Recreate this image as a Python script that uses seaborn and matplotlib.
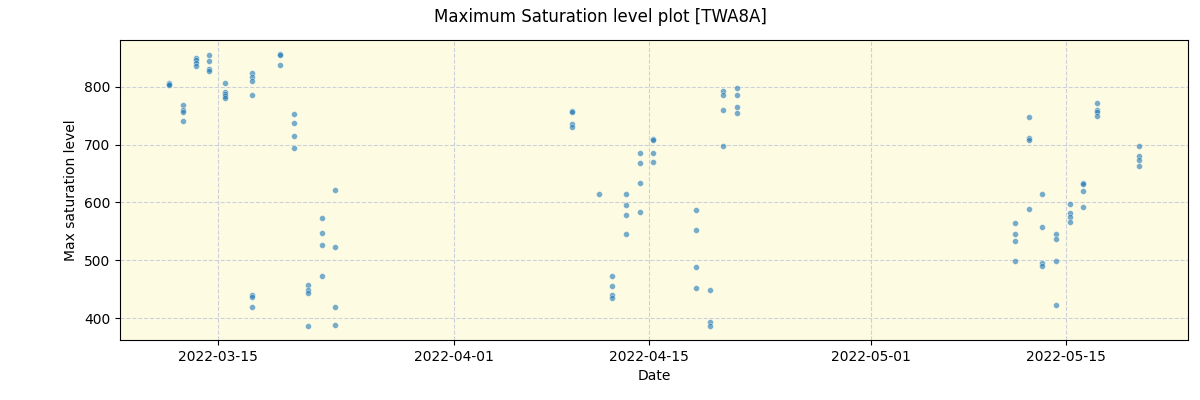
import matplotlib
matplotlib.use("Agg")
import matplotlib.pyplot as plt
import matplotlib.dates as mdates
import seaborn as sns
import pandas as pd

# Observation timestamps (one group of measurements per timestamp)
obs_times = [
    "2022-03-11 11:20", "2022-03-12 11:30", "2022-03-13 10:00", "2022-03-14 10:00",
    "2022-03-15 12:30", "2022-03-17 12:00", "2022-03-19 11:00", "2022-03-20 11:20",
    "2022-03-21 11:30", "2022-03-22 11:45", "2022-03-23 10:50",
    "2022-04-09 11:45", "2022-04-11 10:20", "2022-04-12 09:00", "2022-04-13 09:00",
    "2022-04-14 09:10", "2022-04-15 07:40", "2022-04-18 09:50", "2022-04-19 10:05",
    "2022-04-20 08:40", "2022-04-21 08:55",
    "2022-05-11 07:30", "2022-05-12 07:40", "2022-05-13 07:40", "2022-05-14 07:55",
    "2022-05-15 07:40", "2022-05-16 06:30", "2022-05-17 06:45", "2022-05-20 07:10",
]

# Max saturation level values at each timestamp
sat_values = [
    [806, 804, 803],
    [768, 759, 756, 741],
    [849, 846, 840, 835],
    [854, 845, 831, 827],
    [807, 791, 787, 784, 780],
    [823, 816, 809, 786, 440, 436, 419],
    [857, 855, 838],
    [752, 738, 715, 694],
    [457, 449, 444, 386],
    [573, 547, 526, 473],
    [622, 523, 419, 388],
    [758, 757, 736, 731],
    [615],
    [473, 455, 440, 435],
    [615, 596, 578, 546],
    [686, 668, 634, 584],
    [710, 707, 686, 670],
    [587, 552, 488, 452],
    [449, 393, 386],
    [793, 786, 760, 698],
    [797, 786, 765, 755],
    [565, 546, 533, 499],
    [748, 712, 708, 589],
    [615, 558, 495, 490],
    [546, 537, 499, 423],
    [597, 582, 575, 566],
    [634, 632, 620, 592],
    [772, 759, 757, 750],
    [698, 681, 674, 663],
]

rows = []
for t, vals in zip(obs_times, sat_values):
    for v in vals:
        rows.append({"Date": pd.Timestamp(t), "Max saturation level": v})
df = pd.DataFrame(rows)

fig = plt.figure(figsize=(12, 4), dpi=100)
ax = fig.add_axes([0.1, 0.15, 0.89, 0.75])
ax.set_facecolor("#fdfce2")

sns.scatterplot(data=df, x="Date", y="Max saturation level", ax=ax,
                color="#1f77b4", alpha=0.6, s=18, edgecolor="white", linewidth=0.4)

ax.grid(True, linestyle="--", color="#cdd0da", linewidth=0.8)
ax.set_axisbelow(True)
ax.set_xticks(pd.to_datetime(["2022-03-15", "2022-04-01", "2022-04-15", "2022-05-01", "2022-05-15"]))
ax.xaxis.set_major_formatter(mdates.DateFormatter("%Y-%m-%d"))
ax.set_yticks([400, 500, 600, 700, 800])
ax.set_xlabel("Date")
ax.set_ylabel("Max saturation level")
fig.suptitle("Maximum Saturation level plot [TWA8A]", fontsize=12, y=0.98)

fig.savefig("out.png", dpi=100)
